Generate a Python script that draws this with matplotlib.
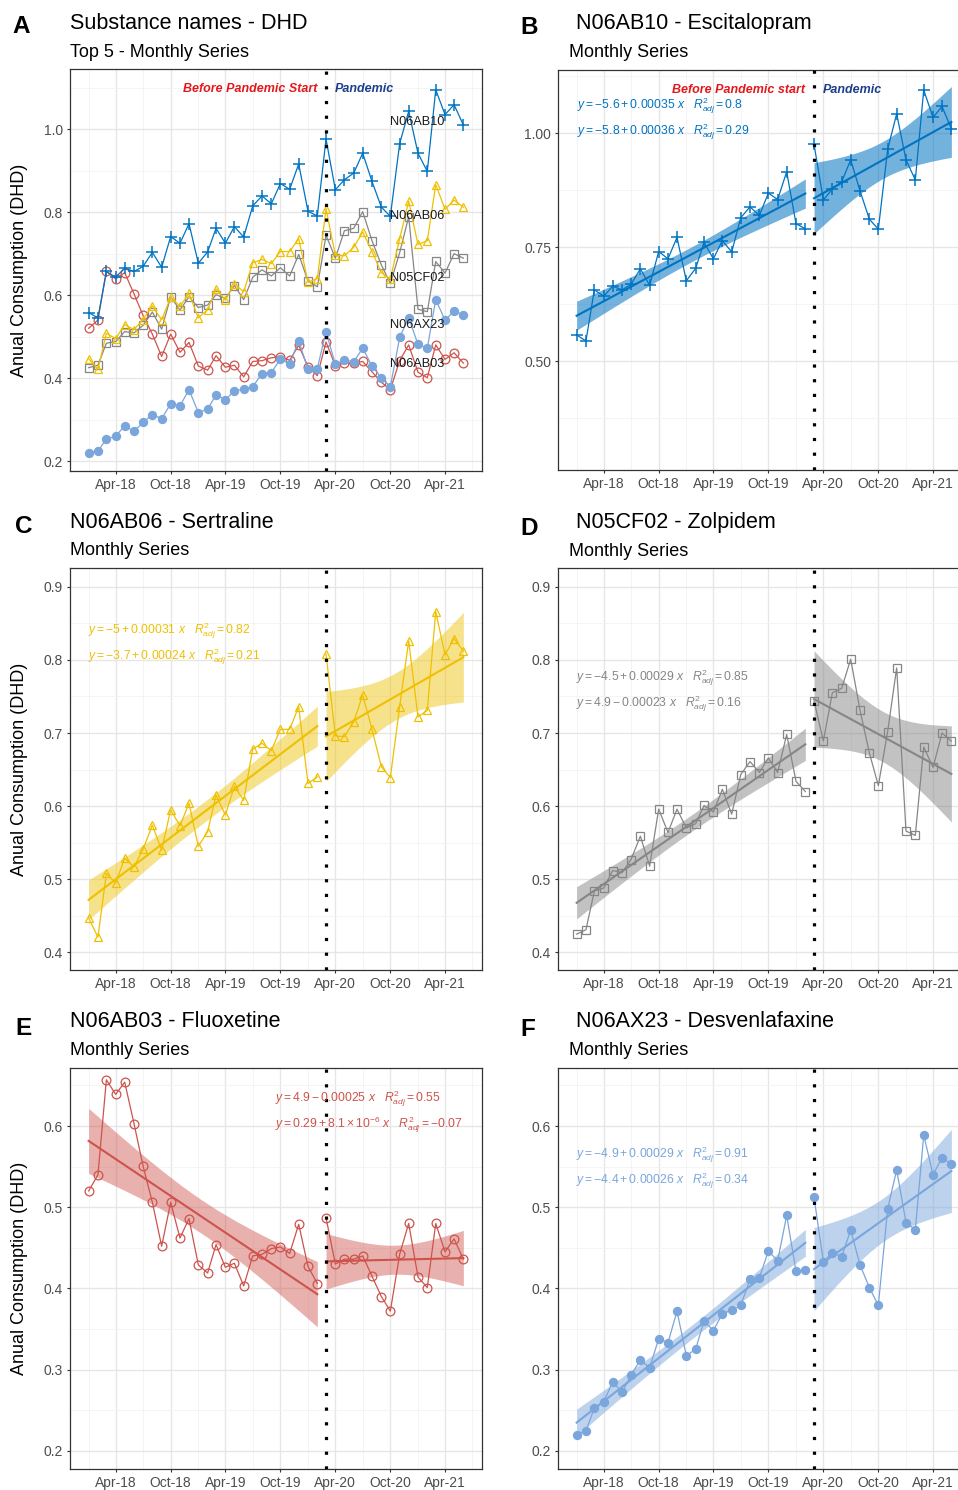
import matplotlib
matplotlib.use("Agg")
import matplotlib.pyplot as plt
import matplotlib.dates as mdates
import matplotlib.transforms as mtransforms
import numpy as np
import pandas as pd

plt.rcParams['font.family'] = ['Liberation Sans', 'DejaVu Sans']
plt.rcParams['mathtext.fontset'] = 'custom'
plt.rcParams['mathtext.rm'] = 'Liberation Sans'
plt.rcParams['mathtext.it'] = 'Liberation Sans:italic'

# ---- data (monthly DHD, Jan-2018 .. Jun-2021) ----
months = pd.date_range("2018-01-01", periods=42, freq="MS")
pandemic_start = pd.Timestamp("2020-03-01")
n_pre = 26  # Jan-18 .. Feb-20

n06ab10 = [0.558, 0.545, 0.657, 0.643, 0.665, 0.657, 0.669, 0.703, 0.667, 0.741,
           0.725, 0.772, 0.677, 0.704, 0.761, 0.725, 0.765, 0.740, 0.815, 0.839,
           0.820, 0.869, 0.855, 0.916, 0.802, 0.791,
           0.976, 0.854, 0.878, 0.894, 0.942, 0.874, 0.812, 0.790, 0.965, 1.043,
           0.942, 0.898, 1.095, 1.035, 1.059, 1.010]
n06ab06 = [0.447, 0.421, 0.508, 0.495, 0.529, 0.517, 0.541, 0.574, 0.540, 0.595,
           0.573, 0.604, 0.545, 0.565, 0.615, 0.588, 0.627, 0.608, 0.678, 0.686,
           0.676, 0.705, 0.705, 0.736, 0.631, 0.640,
           0.808, 0.696, 0.695, 0.715, 0.752, 0.705, 0.654, 0.639, 0.736, 0.826,
           0.722, 0.731, 0.866, 0.807, 0.829, 0.812]
n05cf02 = [0.425, 0.431, 0.484, 0.488, 0.512, 0.509, 0.527, 0.559, 0.518, 0.596,
           0.564, 0.596, 0.570, 0.576, 0.601, 0.592, 0.623, 0.589, 0.643, 0.661,
           0.646, 0.666, 0.646, 0.698, 0.634, 0.620,
           0.744, 0.689, 0.755, 0.761, 0.801, 0.731, 0.673, 0.628, 0.702, 0.789,
           0.566, 0.560, 0.681, 0.653, 0.700, 0.689]
n06ab03 = [0.520, 0.540, 0.657, 0.639, 0.654, 0.603, 0.551, 0.506, 0.452, 0.506,
           0.462, 0.486, 0.429, 0.419, 0.454, 0.426, 0.431, 0.403, 0.440, 0.442,
           0.449, 0.451, 0.443, 0.479, 0.427, 0.406,
           0.487, 0.430, 0.436, 0.436, 0.440, 0.415, 0.390, 0.372, 0.442, 0.480,
           0.414, 0.401, 0.480, 0.445, 0.461, 0.436]
n06ax23 = [0.220, 0.224, 0.253, 0.260, 0.285, 0.272, 0.293, 0.312, 0.302, 0.338,
           0.333, 0.372, 0.317, 0.325, 0.360, 0.348, 0.369, 0.373, 0.379, 0.411,
           0.413, 0.446, 0.434, 0.490, 0.421, 0.423,
           0.512, 0.433, 0.444, 0.439, 0.472, 0.429, 0.401, 0.379, 0.498, 0.546,
           0.481, 0.472, 0.589, 0.540, 0.561, 0.553]

# series label -> (values, colour, marker, filled, band alpha)
series = {
    "N05CF02": (n05cf02, "#868686", "s", False, 0.5),
    "N06AB03": (n06ab03, "#CD534C", "o", False, 0.45),
    "N06AB06": (n06ab06, "#EFC000", "^", False, 0.45),
    "N06AB10": (n06ab10, "#0073C2", "+", False, 0.55),
    "N06AX23": (n06ax23, "#7AA6DC", "o", True, 0.5),
}
label_y = {"N06AB10": 1.018, "N06AB06": 0.791, "N05CF02": 0.641,
           "N06AX23": 0.528, "N06AB03": 0.434}

equations = {
    "N06AB10": [r"$y = -5.6+0.00035\ x\quad R^2_{adj} = 0.8$",
                r"$y = -5.8+0.00036\ x\quad R^2_{adj} = 0.29$"],
    "N06AB06": [r"$y = -5+0.00031\ x\quad R^2_{adj} = 0.82$",
                r"$y = -3.7+0.00024\ x\quad R^2_{adj} = 0.21$"],
    "N05CF02": [r"$y = -4.5+0.00029\ x\quad R^2_{adj} = 0.85$",
                r"$y = 4.9-0.00023\ x\quad R^2_{adj} = 0.16$"],
    "N06AB03": [r"$y = 4.9-0.00025\ x\quad R^2_{adj} = 0.55$",
                r"$y = 0.29+8.1\times10^{-6}\ x\quad R^2_{adj} = -0.07$"],
    "N06AX23": [r"$y = -4.9+0.00029\ x\quad R^2_{adj} = 0.91$",
                r"$y = -4.4+0.00026\ x\quad R^2_{adj} = 0.34$"],
}

T_CRIT = {24: 2.0639, 14: 2.1448}

W, H = 958, 1490
fig = plt.figure(figsize=(W / 100, H / 100), dpi=100)
x_break = mdates.date2num(pandemic_start)


def px_axes(left, top, width, height):
    return fig.add_axes([left / W, 1 - (top + height) / H, width / W, height / H])


def style_axis(ax, ylim, major, minor, ylabel=True):
    ax.set_xlim(mdates.date2num(months[0] - pd.Timedelta(days=62)),
                mdates.date2num(months[-1] + pd.Timedelta(days=62)))
    ax.set_ylim(*ylim)
    ax.xaxis.set_major_locator(mdates.MonthLocator(bymonth=[4, 10]))
    ax.xaxis.set_minor_locator(mdates.MonthLocator(bymonth=[1, 7]))
    ax.xaxis.set_major_formatter(mdates.DateFormatter("%b-%y"))
    ax.set_yticks(major)
    ax.set_yticks(minor, minor=True)
    ax.grid(which="major", color="#e6e6e6", lw=1.0)
    ax.grid(which="minor", color="#f2f2f2", lw=0.6)
    ax.set_axisbelow(True)
    ax.tick_params(which="major", length=2.5, width=0.8, color="#333333",
                   labelcolor="#4d4d4d", labelsize=10, pad=2.5)
    ax.tick_params(which="minor", length=0)
    for s in ax.spines.values():
        s.set_color("#333333")
        s.set_linewidth(0.9)
    ax.axvline(x_break, color="black", lw=2.3, linestyle=(0, (1.0, 3.6)),
               dash_capstyle="butt", zorder=5)
    if ylabel:
        ax.set_ylabel("Anual Consumption (DHD)", fontsize=13)
        ax.yaxis.set_label_coords(-42 / 412, 0.5)


def draw_series(ax, x, y, color, marker, filled):
    ms = {"+": 8, "s": 5.5, "^": 6.3, "o": 5.8 if filled else 6.3}[marker]
    ax.plot(mdates.date2num(x), y, color=color, lw=0.9, marker=marker, ms=ms,
            mfc=color if filled else "none", mec=color, mew=1.1 if marker == "+" else 0.9,
            zorder=3)


def draw_fit(ax, x, y, color, alpha):
    xd = mdates.date2num(x)
    y = np.asarray(y)
    n = len(xd)
    b1, b0 = np.polyfit(xd, y, 1)
    xs = np.linspace(xd.min(), xd.max(), 80)
    yhat = b0 + b1 * xs
    resid = y - (b0 + b1 * xd)
    s = np.sqrt(np.sum(resid ** 2) / (n - 2))
    se = s * np.sqrt(1 / n + (xs - xd.mean()) ** 2 / np.sum((xd - xd.mean()) ** 2))
    t = T_CRIT[n - 2]
    ax.fill_between(xs, yhat - t * se, yhat + t * se, color=color, alpha=alpha, lw=0, zorder=2)
    ax.plot(xs, yhat, color=color, lw=1.5, zorder=2.5)


def header(letter, title, subtitle, lx, ly, tx, ty, sx, sy):
    fig.text(lx / W, 1 - ly / H, letter, fontsize=17.5, fontweight="bold", va="baseline")
    fig.text(tx / W, 1 - ty / H, title, fontsize=15.5, va="baseline")
    fig.text(sx / W, 1 - sy / H, subtitle, fontsize=13, va="baseline")


def period_labels(ax, ypos, second="Pandemic", first="Before Pandemic Start"):
    trans = mtransforms.blended_transform_factory(ax.transData, ax.transAxes)
    ax.annotate(first, (x_break, ypos), xycoords=trans, xytext=(-6.5, 0),
                textcoords="offset points", ha="right", va="center", color="#e3181c",
                fontsize=9, fontweight="bold", fontstyle="italic")
    ax.annotate(second, (x_break, ypos), xycoords=trans, xytext=(6.5, 0),
                textcoords="offset points", ha="left", va="center", color="#1c3f8c",
                fontsize=9, fontweight="bold", fontstyle="italic")


# ---- panel A: all five series ----
axA = px_axes(70, 69, 412, 402)
style_axis(axA, (0.176, 1.145), [0.2, 0.4, 0.6, 0.8, 1.0], [0.3, 0.5, 0.7, 0.9, 1.1])
for name, (vals, col, mk, filled, _) in series.items():
    draw_series(axA, months, vals, col, mk, filled)
    axA.text(mdates.date2num(pd.Timestamp("2020-10-01")), label_y[name], name, fontsize=9.2,
             color="#1a1a1a", ha="left", va="center", zorder=6)
period_labels(axA, 0.95)
header("A", "Substance names - DHD", "Top 5 - Monthly Series", 12, 33, 70, 29, 70, 57)

# ---- panels B-F: one series each, split pre / pandemic ----
panels = [
    ("N06AB10", "B", "N06AB10 - Escitalopram", (558, 70, 412, 400), (0.262, 1.139),
     [0.50, 0.75, 1.00], [0.375, 0.625, 0.875, 1.125], False, (0.046, 0.91, 0.845)),
    ("N06AB06", "C", "N06AB06 - Sertraline", (70, 568, 412, 402), (0.376, 0.9256),
     [0.4, 0.5, 0.6, 0.7, 0.8, 0.9], [0.45, 0.55, 0.65, 0.75, 0.85], True, (0.044, 0.843, 0.779)),
    ("N05CF02", "D", "N05CF02 - Zolpidem", (558, 568, 412, 402), (0.376, 0.9256),
     [0.4, 0.5, 0.6, 0.7, 0.8, 0.9], [0.45, 0.55, 0.65, 0.75, 0.85], False, (0.044, 0.727, 0.662)),
    ("N06AB03", "E", "N06AB03 - Fluoxetine", (70, 1068, 412, 401), (0.1775, 0.6715),
     [0.2, 0.3, 0.4, 0.5, 0.6], [0.25, 0.35, 0.45, 0.55, 0.65], True, (0.498, 0.924, 0.859)),
    ("N06AX23", "F", "N06AX23 - Desvenlafaxine", (558, 1068, 412, 401), (0.1775, 0.6715),
     [0.2, 0.3, 0.4, 0.5, 0.6], [0.25, 0.35, 0.45, 0.55, 0.65], False, (0.044, 0.784, 0.72)),
]
header_pos = {"B": (520, 34, 576, 29, 569, 57), "C": (15, 533, 70, 528, 70, 555),
              "D": (520, 535, 576, 528, 569, 556), "E": (15, 1035, 70, 1027, 70, 1055),
              "F": (520, 1036, 576, 1027, 569, 1055)}

for name, letter, title, box, ylim, major, minor, ylab, eqpos in panels:
    vals, col, mk, filled, alpha = series[name]
    ax = px_axes(*box)
    style_axis(ax, ylim, major, minor, ylabel=ylab)
    for part in (slice(0, n_pre), slice(n_pre, None)):
        draw_fit(ax, months[part], vals[part], col, alpha)
        draw_series(ax, months[part], vals[part], col, mk, filled)
    ex, ey1, ey2 = eqpos
    for txt, ey in zip(equations[name], (ey1, ey2)):
        ax.text(ex, ey, txt, transform=ax.transAxes, fontsize=8.7, color=col,
                ha="left", va="center", zorder=6)
    if letter == "B":
        period_labels(ax, 0.95, first="Before Pandemic start")
    header(letter, title, "Monthly Series", *header_pos[letter])

fig.savefig("out.png", dpi=100)
